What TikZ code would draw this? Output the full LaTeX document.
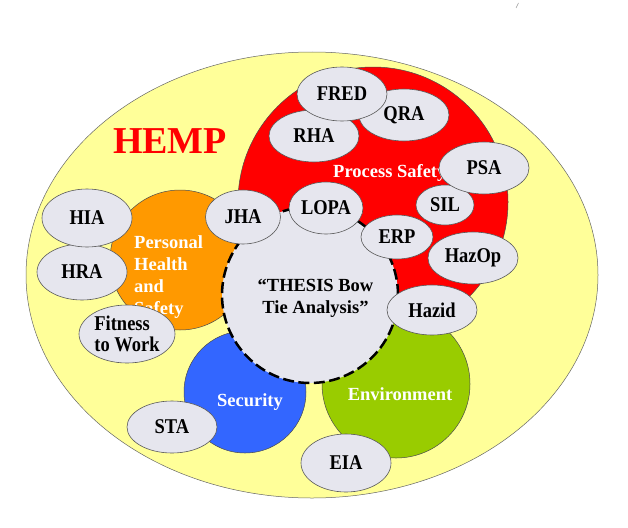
\documentclass[tikz,border=0pt]{standalone}
\usepackage{fontspec}
\setmainfont{Liberation Serif}
\newfontfamily\condserif[FakeStretch=0.88]{Liberation Serif}
\usetikzlibrary{shapes.geometric}
\definecolor{hyellow}{RGB}{255,255,153}
\definecolor{hred}{RGB}{255,0,0}
\definecolor{horange}{RGB}{255,153,0}
\definecolor{hblue}{RGB}{51,102,255}
\definecolor{hgreen}{RGB}{153,204,0}
\definecolor{hgray}{RGB}{230,230,238}
\begin{document}
\begin{tikzpicture}[x=1pt,y=-1pt,
  area/.style={circle, draw=black!70, line width=0.5pt, inner sep=0pt},
  tool/.style={ellipse, draw=black!65, line width=0.6pt, fill=hgray, inner sep=0pt,
    font=\condserif\fontsize{21}{22}\selectfont\bfseries, text=black},
  alabel/.style={text=white, font=\fontsize{18.5}{22}\selectfont\bfseries, inner sep=0pt}
]
\useasboundingbox (0,0) rectangle (628,527);
% outer HEMP field
\node[ellipse, draw=black!60, line width=0.5pt, fill=hyellow, inner sep=0pt,
  minimum width=572pt, minimum height=446pt] (hemp) at (312,275) {};
% small mark top right
\coordinate (m1) at (516,8);
\coordinate (m2) at (518.5,3);
\draw[black!40, line width=0.5pt] (m1) -- (m2);
% areas
\node[area, fill=hred, minimum size=270pt] (ps) at (373,202) {};
\node[area, fill=horange, minimum size=140pt] (phs) at (180,260) {};
\node[area, fill=hblue, minimum size=122pt] (sec) at (245,392) {};
\node[area, fill=hgreen, minimum size=148pt] (env) at (396,384) {};
% centre
\node[circle, draw=black, fill=hgray, line width=2.5pt, dash pattern=on 11pt off 4.5pt,
  minimum size=176pt, inner sep=0pt] (thesis) at (310,295) {};
% area labels
\node[alabel, anchor=base west] (pslab) at (333,177) {Process Safety};
\node[alabel, anchor=base west] (phs1) at (134,248) {Personal};
\node[alabel, anchor=base west] (phs2) at (134,270) {Health};
\node[alabel, anchor=base west] (phs3) at (134,292) {and};
\node[alabel, anchor=base west] (phs4) at (134,314) {Safety};
\node[alabel, anchor=base] (seclab) at (250,406) {Security};
\node[alabel, anchor=base] (envlab) at (400,400) {Environment};
\node[text=hred, font=\fontsize{38}{40}\selectfont\bfseries, inner sep=0pt, anchor=base] (hemplab) at (170,153) {HEMP};
\node[font=\fontsize{18.5}{22}\selectfont\bfseries, align=center, inner sep=0pt, anchor=base] (thesislab) at (315.5,313) {“THESIS Bow\\Tie Analysis”};
% tools
\node[tool, minimum width=90pt, minimum height=52pt] (rha) at (314,136) {RHA};
\node[tool, minimum width=90pt, minimum height=52pt] (qra) at (404,115) {QRA};
\node[tool, minimum width=90pt, minimum height=54pt] (fred) at (342,94) {FRED};
\node[tool, minimum width=58pt, minimum height=40pt] (sil) at (445,205) {SIL};
\node[tool, minimum width=90pt, minimum height=52pt] (psa) at (484,168) {PSA};
\node[tool, minimum width=74pt, minimum height=52pt] (lopa) at (326,208) {LOPA};
\node[tool, minimum width=72pt, minimum height=44pt] (erp) at (397,237) {ERP};
\node[tool, minimum width=90pt, minimum height=52pt] (hazop) at (473,258) {HazOp};
\node[tool, minimum width=90pt, minimum height=50pt] (hazid) at (432,310) {Hazid};
\node[tool, minimum width=75pt, minimum height=54pt] (jha) at (243,217) {JHA};
\node[tool, minimum width=90pt, minimum height=56pt] (hra) at (82,272) {HRA};
\node[tool, minimum width=90pt, minimum height=58pt] (hia) at (87,218) {HIA};
\node[tool, minimum width=96pt, minimum height=58pt, align=left, font=\condserif\fontsize{21}{21.5}\selectfont\bfseries] (fit) at (127,334) {Fitness\\to Work};
\node[tool, minimum width=90pt, minimum height=52pt] (sta) at (172,427) {STA};
\node[tool, minimum width=90pt, minimum height=58pt] (eia) at (346,463) {EIA};
\end{tikzpicture}
\end{document}
